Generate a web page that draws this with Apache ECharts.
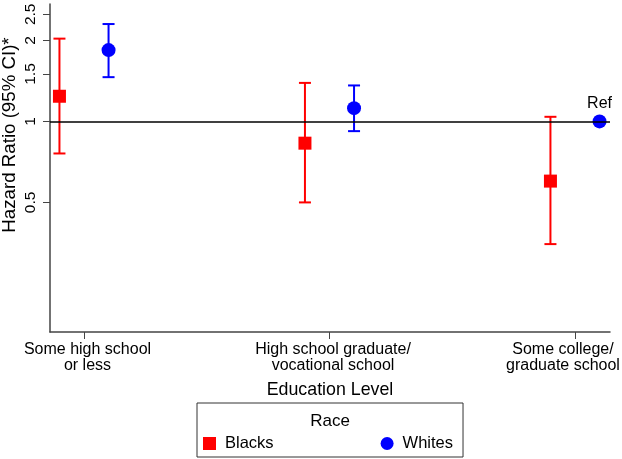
<!DOCTYPE html>
<html><head><meta charset="utf-8">
<script src="https://cdn.jsdelivr.net/npm/echarts@6/dist/echarts.min.js"></script>
<style>html,body{margin:0;padding:0;background:#fff}#c{width:622px;height:459px}</style>
</head><body><div id="c"></div>
<script>
// ---- data ----
const categories = ['Some high school\nor less', 'High school graduate/\nvocational school', 'Some college/\ngraduate school'];
const blacksHR   = [1.24, 0.83, 0.60];
const blacksLow  = [0.76, 0.50, 0.35];
const blacksHigh = [2.03, 1.39, 1.04];
const whitesHR   = [1.84, 1.12, 1.00];
const whitesLow  = [1.46, 0.92, null];
const whitesHigh = [2.30, 1.36, null];
const whitesNote = ['', '', 'Ref'];
const yTicks = [0.5, 1, 1.5, 2, 2.5];
const yMin = 0.165, yMax = 2.73;
const refValue = 1;

// ---- build ----
const FONT = 'Liberation Sans, Arial, sans-serif';
const RED = '#ff0000', BLUE = '#0000ff';
const OFF = 0.1;
const xPos = i => i + 1;

function ciData(low, high, off) {
  const out = [];
  for (let i = 0; i < low.length; i++) {
    if (low[i] != null && high[i] != null) out.push([xPos(i) + off, low[i], high[i]]);
  }
  return out;
}
function pointData(vals, off, notes) {
  return vals.map((v, i) => {
    const d = { value: [xPos(i) + off, v] };
    if (notes && notes[i]) {
      d.label = { show: true, formatter: notes[i], position: 'top', distance: 3,
                  fontSize: 16, color: '#000', fontFamily: FONT };
    }
    return d;
  });
}
function errRender(color) {
  return function (params, api) {
    const x = api.value(0), lo = api.value(1), hi = api.value(2);
    const p1 = api.coord([x, hi]), p2 = api.coord([x, lo]);
    const w = 6;
    const st = { stroke: color, lineWidth: 2 };
    return { type: 'group', children: [
      { type: 'line', shape: { x1: p1[0], y1: p1[1], x2: p2[0], y2: p2[1] }, style: st },
      { type: 'line', shape: { x1: p1[0] - w, y1: p1[1], x2: p1[0] + w, y2: p1[1] }, style: st },
      { type: 'line', shape: { x1: p2[0] - w, y1: p2[1], x2: p2[0] + w, y2: p2[1] }, style: st }
    ]};
  };
}
function catLabel(v) {
  const i = Math.round(v) - 1;
  const txt = categories[i];
  if (txt == null) return '';
  const tag = i === categories.length - 1 ? 'last' : 'n';
  return txt.split('\n').map(s => '{' + tag + '|' + s + '}').join('\n');
}

const chart = echarts.init(document.getElementById('c'), null, { renderer: 'canvas' });
const lblStyle = { fontSize: 16, lineHeight: 16, color: '#000', fontFamily: FONT };
chart.setOption({
  animation: false,
  backgroundColor: '#fff',
  grid: { left: 50, right: 12, top: 4, bottom: 127, containLabel: false, outerBoundsMode: 'none' },
  xAxis: {
    type: 'value', min: 0.8615, max: 3.1426,
    splitLine: { show: false },
    axisLine: { lineStyle: { color: '#444', width: 1.5 } },
    axisTick: { customValues: categories.map((c, i) => xPos(i)), length: 7, lineStyle: { color: '#444' } },
    axisLabel: { customValues: categories.map((c, i) => xPos(i)),
      formatter: catLabel, margin: 10, hideOverlap: false,
      fontSize: 16, lineHeight: 16, color: '#000', fontFamily: FONT,
      rich: {
        n: Object.assign({ padding: [0, 0, 0, 7] }, lblStyle),
        last: Object.assign({ padding: [0, 24, 0, 0] }, lblStyle)
      } },
    name: 'Education Level', nameLocation: 'middle', nameGap: 49,
    nameTextStyle: { fontSize: 17.8, color: '#000', fontFamily: FONT }
  },
  yAxis: {
    type: 'log', min: yMin, max: yMax, logBase: 10,
    splitLine: { show: false },
    axisLine: { show: true, lineStyle: { color: '#444', width: 1.5 } },
    axisTick: { show: true, customValues: yTicks, length: 7, lineStyle: { color: '#444' } },
    axisLabel: { customValues: yTicks, formatter: v => String(v), rotate: 90,
      fontSize: 15.5, margin: 11, color: '#000', fontFamily: FONT },
    minorTick: { show: false }
  },
  legend: {
    data: [{ name: 'Blacks', icon: 'rect' }, { name: 'Whites', icon: 'circle' }],
    left: 197, top: 403, orient: 'horizontal',
    padding: [32, 10, 5, 6], itemGap: 107, itemWidth: 13, itemHeight: 13,
    borderColor: '#333', borderWidth: 1,
    textStyle: { fontSize: 16.5, color: '#000', fontFamily: FONT, padding: [0, 0, 0, 4] }
  },
  graphic: [
    { type: 'text', x: 330, y: 421, style: { text: 'Race', align: 'center', verticalAlign: 'middle',
      fontSize: 17, fill: '#000', fontFamily: FONT } },
    { type: 'text', x: 10, y: 135, rotation: Math.PI / 2, style: { text: 'Hazard Ratio (95% CI)*',
      align: 'center', verticalAlign: 'middle', fontSize: 18.7, fill: '#000', fontFamily: FONT } }
  ],
  series: [
    { name: 'Blacks CI', type: 'custom', renderItem: errRender(RED), data: ciData(blacksLow, blacksHigh, -OFF),
      encode: { x: 0, y: [1, 2] }, z: 2, silent: true },
    { name: 'Whites CI', type: 'custom', renderItem: errRender(BLUE), data: ciData(whitesLow, whitesHigh, OFF),
      encode: { x: 0, y: [1, 2] }, z: 2, silent: true },
    { name: 'Blacks', type: 'scatter', symbol: 'rect', symbolSize: 13, itemStyle: { color: RED, opacity: 1 },
      data: pointData(blacksHR, -OFF), z: 3,
      markLine: { silent: true, symbol: 'none', label: { show: false },
        lineStyle: { color: '#000', width: 1.5, type: 'solid' }, data: [{ yAxis: refValue }] } },
    { name: 'Whites', type: 'scatter', symbol: 'circle', symbolSize: 14, itemStyle: { color: BLUE, opacity: 1 },
      data: pointData(whitesHR, OFF, whitesNote), z: 3 }
  ]
});
</script></body></html>
